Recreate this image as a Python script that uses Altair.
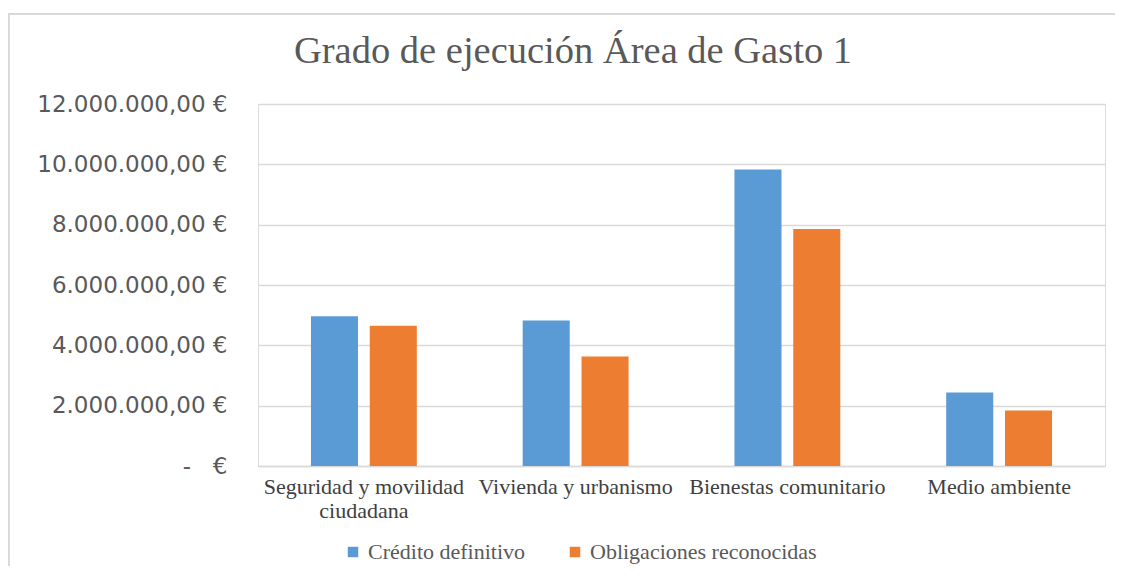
import altair as alt
import pandas as pd

categories = ["Seguridad y movilidad ciudadana", "Vivienda y urbanismo",
              "Bienestas comunitario", "Medio ambiente"]
series = ["Crédito definitivo", "Obligaciones reconocidas"]
credito = [4960000, 4820000, 9830000, 2440000]
obligaciones = [4650000, 3630000, 7860000, 1840000]
colors = ["#5B9BD5", "#ED7D31"]
tick_values = [0, 2000000, 4000000, 6000000, 8000000, 10000000, 12000000]
tick_labels = ["-\u00a0\u00a0\u00a0€", "2.000.000,00 €", "4.000.000,00 €", "6.000.000,00 €",
               "8.000.000,00 €", "10.000.000,00 €", "12.000.000,00 €"]

rows = []
for c, a, b in zip(categories, credito, obligaciones):
    rows.append({"cat": c, "serie": series[0], "valor": a})
    rows.append({"cat": c, "serie": series[1], "valor": b})
df = pd.DataFrame(rows)

ylabel_expr = ""
for v, l in zip(tick_values, tick_labels):
    ylabel_expr += f"datum.value == {v} ? '{l}' : "
ylabel_expr += "''"

xlabel_expr = ("datum.label == 'Seguridad y movilidad ciudadana' ? "
               "['Seguridad y movilidad', 'ciudadana'] : datum.label")

bars = alt.Chart(df).mark_bar().encode(
    x=alt.X("cat:N", sort=categories, title=None,
            scale=alt.Scale(paddingInner=0.5, paddingOuter=0.25),
            axis=alt.Axis(labelAngle=0, labelFont="Liberation Serif", labelFontSize=22,
                          labelColor="#404040", labelPadding=10, labelLineHeight=24,
                          ticks=False, domainColor="#d9d9d9", domainWidth=1.5,
                          labelExpr=xlabel_expr, labelLimit=400)),
    xOffset=alt.XOffset("serie:N", sort=series, scale=alt.Scale(paddingInner=0.2)),
    y=alt.Y("valor:Q", title=None,
            scale=alt.Scale(domain=[0, 12000000], nice=False),
            axis=alt.Axis(values=tick_values, labelExpr=ylabel_expr, labelFont="DejaVu Sans",
                          labelFontSize=23, labelColor="#595959", labelPadding=31,
                          ticks=False, domain=False, gridColor="#d9d9d9", gridWidth=1.5,
                          labelLimit=400)),
    color=alt.Color("serie:N", sort=series,
                    scale=alt.Scale(domain=series, range=colors),
                    legend=alt.Legend(title=None, orient="none", legendX=84, legendY=437,
                                      direction="horizontal", symbolType="square",
                                      symbolSize=110, symbolStrokeWidth=0,
                                      labelFont="Liberation Serif", labelFontSize=22,
                                      labelColor="#595959", columnPadding=38,
                                      labelOffset=4, labelLimit=400)),
)

border_top = alt.Chart(pd.DataFrame({"k": [0]})).mark_rule(color="#d9d9d9", strokeWidth=2).encode(
    x=alt.value(-250), x2=alt.value(880), y=alt.value(-90))
border_left = alt.Chart(pd.DataFrame({"k": [0]})).mark_rule(color="#d9d9d9", strokeWidth=2).encode(
    x=alt.value(-249), y=alt.value(-90), y2=alt.value(475))

chart = alt.layer(bars, border_top, border_left).properties(
    width=847, height=362,
    title=alt.TitleParams("Grado de ejecución Área de Gasto 1", font="Liberation Serif",
                          fontSize=38.5, fontWeight="normal", color="#595959",
                          anchor="middle", frame="bounds", offset=-58),
    autosize=alt.AutoSizeParams(type="none"),
    padding={"left": 250, "top": 96, "right": 10, "bottom": 100},
).configure_view(stroke=None).configure(background="white")

chart.save("out.html", embed_options={"renderer": "svg", "actions": False})
